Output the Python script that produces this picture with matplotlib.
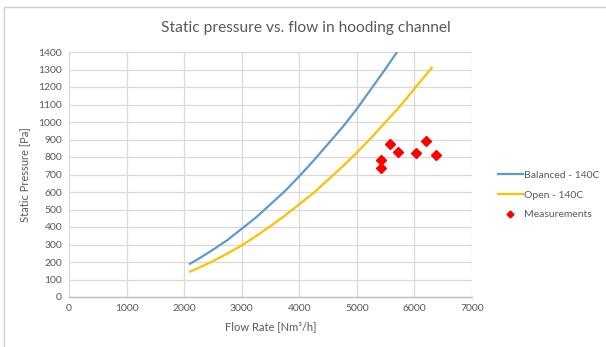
import matplotlib

matplotlib.use("Agg")
import matplotlib.pyplot as plt
from matplotlib.patches import Rectangle

# values
balanced_flow = [2100, 2250, 2500, 2750, 3000, 3250, 3500, 3750, 4000, 4250,
                 4500, 4750, 5000, 5250, 5500, 5750]
balanced = [190, 218, 270, 325, 390, 455, 530, 605, 690, 780,
            875, 970, 1075, 1190, 1305, 1425]
open_flow = [2100, 2250, 2500, 2750, 3000, 3250, 3500, 3750, 4000, 4250,
             4500, 4750, 5000, 5250, 5500, 5750, 6000, 6300]
open_ = [145, 166, 205, 248, 295, 348, 405, 465, 530, 595,
         670, 745, 825, 910, 1000, 1090, 1190, 1310]

meas_flow = [5425, 5425, 5576, 5710, 6033, 6196, 6380]
meas_pressure = [737, 781, 872, 828, 825, 893, 809]

x_ticks = list(range(0, 7001, 1000))
y_ticks = list(range(0, 1401, 100))

TEXT = "#595959"
GRID = "#d9d9d9"

plt.rcParams["font.family"] = ["Lato", "DejaVu Sans"]

W, H = 606, 347
fig = plt.figure(figsize=(W / 100, H / 100), dpi=100)
fig.patch.set_facecolor("white")

# chart-area border (only top and left show in the crop)
fig.add_artist(Rectangle((4 / W, -0.1), 1.2, 1 - 7 / H + 0.1, transform=fig.transFigure,
                         facecolor="none", edgecolor="#d0d0d0", linewidth=1.0))

ax = fig.add_axes([69 / W, 1 - 297 / H, (472 - 69) / W, (297 - 52) / H])
ax.set_xlim(0, 7000)
ax.set_ylim(0, 1400)
ax.set_xticks(x_ticks)
ax.set_yticks(y_ticks)
ax.grid(True, color=GRID, linewidth=0.9)
ax.set_axisbelow(True)
for side in ("top", "right", "left"):
    ax.spines[side].set_visible(False)
ax.spines["bottom"].set_color("#bfbfbf")
ax.spines["bottom"].set_linewidth(1.0)
ax.tick_params(length=0, labelsize=7.5, labelcolor=TEXT, pad=5)

ax.plot(balanced_flow, balanced, color="#5b9bd5", linewidth=1.6, label="Balanced - 140C")
ax.plot(open_flow, open_, color="#ffc000", linewidth=1.6, label="Open - 140C")
ax.plot(meas_flow, meas_pressure, linestyle="none", marker="D", markersize=5,
        color="#ff0000", label="Measurements")

ax.set_xlabel("Flow Rate [Nm³/h]", fontsize=8, color=TEXT, labelpad=6)
ax.set_ylabel("Static Pressure [Pa]", fontsize=8, color=TEXT, labelpad=6)
fig.text(306 / W, 1 - 28 / H, "Static pressure vs. flow in hooding channel",
         ha="center", va="center", fontsize=11.2, color=TEXT)

leg = ax.legend(loc="center left", bbox_to_anchor=(498 / W, 1 - 195 / H),
                bbox_transform=fig.transFigure, frameon=False, fontsize=7.5,
                handlelength=2.4, handletextpad=0.1, labelspacing=1.0,
                borderaxespad=0, borderpad=0, markerscale=0.7)
for t in leg.get_texts():
    t.set_color(TEXT)

fig.savefig("out.png", dpi=100, facecolor="white")
